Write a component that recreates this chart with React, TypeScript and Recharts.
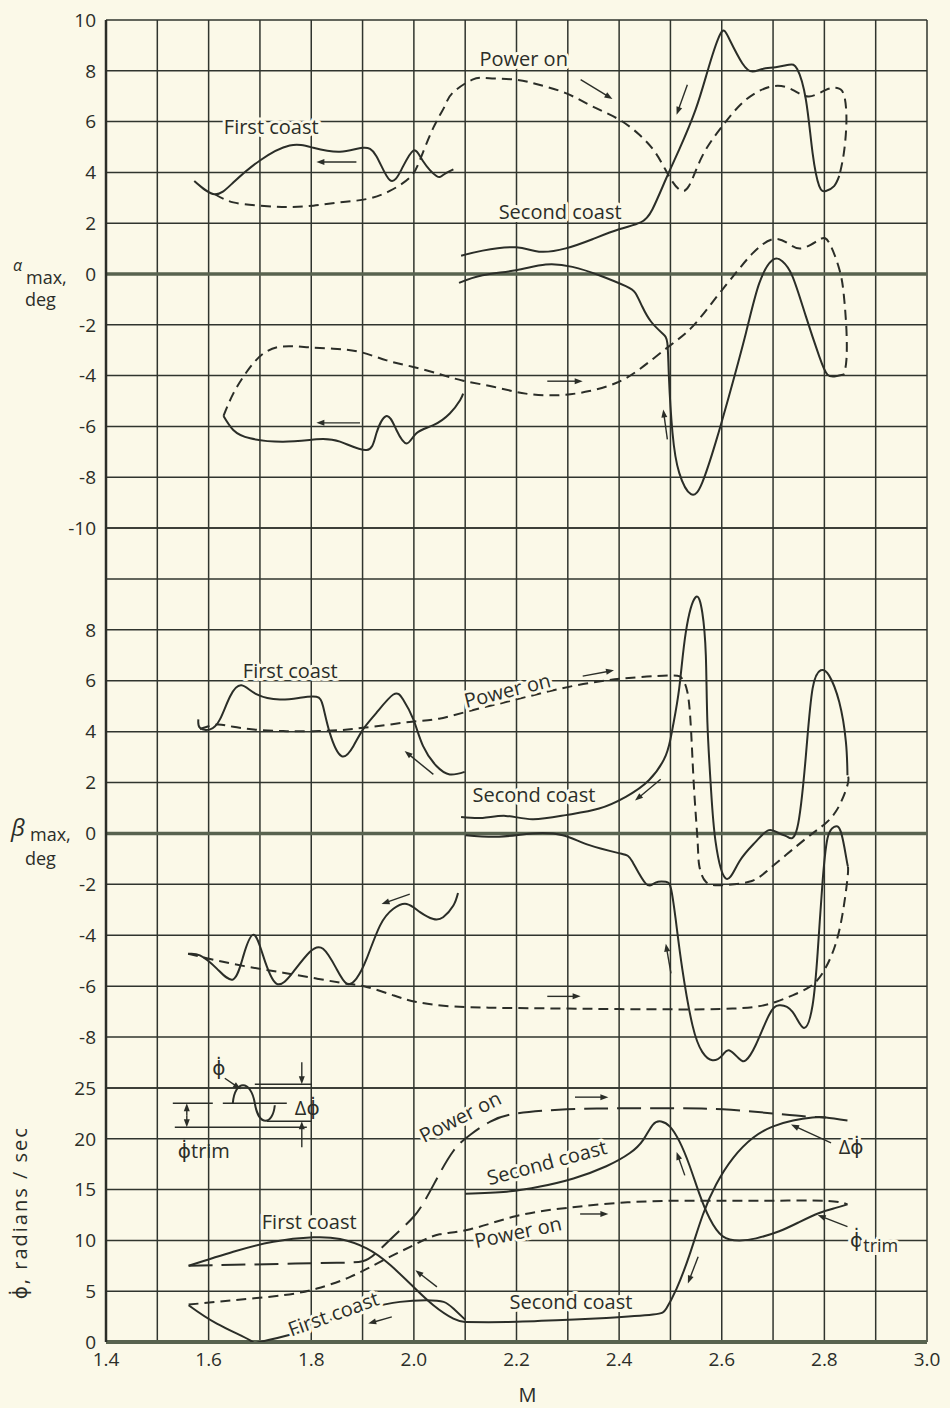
import React from "react";
import {
  LineChart,
  Line,
  XAxis,
  YAxis,
  CartesianGrid,
  ReferenceLine,
  ReferenceDot,
} from "recharts";

const PAPER = "#fbf9e8";
const INK = "#2b2e28";
const GRID = "#30352e";
const ZERO = "#58634f";
const FONT = "'Open Sans', 'DejaVu Sans', sans-serif";

const PLOT_LEFT = 106;
const PLOT_RIGHT = 927;
const PX_PER_M = (PLOT_RIGHT - PLOT_LEFT) / 1.6;

// ticks
const M_TICKS = [1.4, 1.5, 1.6, 1.7, 1.8, 1.9, 2.0, 2.1, 2.2, 2.3, 2.4, 2.5, 2.6, 2.7, 2.8, 2.9, 3.0];
const M_LABELED = [1.4, 1.6, 1.8, 2.0, 2.2, 2.4, 2.6, 2.8, 3.0];
const ALPHA_TICKS = [-10, -8, -6, -4, -2, 0, 2, 4, 6, 8, 10];
const BETA_TICKS = [-10, -8, -6, -4, -2, 0, 2, 4, 6, 8, 10, 12];
const BETA_LABELED = [-8, -6, -4, -2, 0, 2, 4, 6, 8];
const RATE_TICKS = [0, 5, 10, 15, 20, 25];

type Pair = [number, number];

// ---- alpha_max, deg : [M, alpha]
const alphaFirstCoastUp: Pair[] = [
  [1.572, 3.66], [1.612, 3.14], [1.648, 3.6], [1.7, 4.47], [1.758, 5.06], [1.804, 4.97],
  [1.856, 4.81], [1.9, 4.97], [1.927, 4.64], [1.953, 3.7], [1.976, 4.12], [1.999, 4.86],
  [2.018, 4.44], [2.044, 3.86], [2.057, 3.9], [2.077, 4.12],
];
const alphaPowerOnUp: Pair[] = [
  [1.612, 3.14], [1.648, 2.82], [1.7, 2.69], [1.752, 2.64], [1.804, 2.69], [1.856, 2.82],
  [1.908, 2.95], [1.953, 3.27], [1.992, 3.8], [2.012, 4.5], [2.038, 5.76], [2.06, 6.6],
  [2.075, 7.12], [2.114, 7.65], [2.147, 7.71], [2.199, 7.65], [2.244, 7.45], [2.296, 7.12],
  [2.348, 6.6], [2.4, 6.08], [2.439, 5.49], [2.471, 4.77], [2.497, 3.86], [2.517, 3.33],
  [2.536, 3.46], [2.562, 4.64], [2.601, 5.82], [2.647, 6.86], [2.699, 7.39], [2.738, 7.25],
  [2.77, 6.99], [2.803, 7.25], [2.825, 7.32], [2.838, 7.06], [2.843, 6.08], [2.838, 4.77],
  [2.829, 3.86],
];
const alphaSecondCoastUp: Pair[] = [
  [2.092, 0.72], [2.134, 0.92], [2.199, 1.05], [2.244, 0.88], [2.296, 1.01], [2.348, 1.37],
  [2.4, 1.76], [2.442, 2.03], [2.465, 2.55], [2.491, 3.73], [2.517, 4.9], [2.549, 6.47],
  [2.575, 8.17], [2.598, 9.48], [2.614, 9.28], [2.64, 8.3], [2.66, 7.97], [2.679, 8.07],
  [2.705, 8.14], [2.731, 8.24], [2.747, 8.07], [2.764, 6.86], [2.777, 4.77], [2.79, 3.46],
  [2.803, 3.27], [2.819, 3.46], [2.829, 3.86],
];
const alphaSecondCoastDown: Pair[] = [
  [2.088, -0.35], [2.134, -0.05], [2.199, 0.15], [2.257, 0.37], [2.309, 0.28], [2.361, -0.05],
  [2.413, -0.48], [2.432, -0.76], [2.445, -1.28], [2.462, -1.87], [2.484, -2.33], [2.494, -2.72],
  [2.497, -4.03], [2.504, -6.25], [2.517, -7.82], [2.54, -8.67], [2.562, -8.21], [2.588, -6.64],
  [2.614, -4.81], [2.647, -2.33], [2.673, -0.37], [2.699, 0.55], [2.718, 0.5], [2.738, -0.1],
  [2.764, -1.67], [2.79, -3.24], [2.806, -3.96], [2.822, -4.03], [2.838, -3.96],
];
const alphaPowerOnDown: Pair[] = [
  [1.629, -5.59], [1.648, -4.71], [1.674, -3.86], [1.706, -3.14], [1.745, -2.85], [1.791, -2.88],
  [1.843, -2.94], [1.895, -3.07], [1.947, -3.4], [1.999, -3.66], [2.051, -3.95], [2.096, -4.2],
  [2.155, -4.44], [2.218, -4.71], [2.283, -4.77], [2.342, -4.61], [2.394, -4.29], [2.439, -3.76],
  [2.497, -2.85], [2.543, -2.07], [2.588, -0.95], [2.627, 0.03], [2.66, 0.81], [2.699, 1.37],
  [2.731, 1.18], [2.757, 1.01], [2.79, 1.35], [2.809, 1.24], [2.829, 0.2], [2.838, -0.85],
  [2.843, -2.2], [2.843, -3.37], [2.838, -3.96],
];
const alphaFirstCoastDown: Pair[] = [
  [1.629, -5.59], [1.648, -6.14], [1.681, -6.47], [1.745, -6.6], [1.81, -6.51], [1.856, -6.6],
  [1.908, -6.93], [1.927, -6.27], [1.947, -5.59], [1.966, -6.14], [1.986, -6.67], [2.005, -6.27],
  [2.038, -5.95], [2.07, -5.49], [2.09, -4.97], [2.096, -4.71],
];

// ---- beta_max, deg : [M, beta]
const betaFirstCoastUp: Pair[] = [
  [1.58, 4.48], [1.583, 4.15], [1.603, 4.09], [1.622, 4.48], [1.642, 5.39], [1.664, 5.82],
  [1.694, 5.46], [1.739, 5.26], [1.778, 5.33], [1.81, 5.37], [1.823, 5.0], [1.836, 3.96],
  [1.859, 3.04], [1.882, 3.43], [1.901, 4.09], [1.927, 4.74], [1.96, 5.46], [1.979, 5.26],
  [1.999, 4.48], [2.018, 3.43], [2.044, 2.65], [2.07, 2.32], [2.099, 2.42],
];
const betaPowerOnUp: Pair[] = [
  [1.583, 4.1], [1.616, 4.28], [1.648, 4.19], [1.7, 4.06], [1.752, 4.02], [1.804, 4.02],
  [1.856, 4.06], [1.901, 4.15], [1.953, 4.28], [2.005, 4.41], [2.049, 4.51], [2.114, 4.84],
  [2.179, 5.16], [2.244, 5.49], [2.309, 5.79], [2.374, 6.01], [2.439, 6.14], [2.504, 6.21],
  [2.523, 6.08], [2.533, 5.56], [2.54, 4.12], [2.546, 1.76], [2.553, -0.33], [2.556, -1.25],
  [2.569, -1.9], [2.601, -2.03], [2.653, -1.9], [2.686, -1.51], [2.725, -0.85], [2.764, -0.2],
  [2.79, 0.2], [2.822, 0.85], [2.845, 1.9], [2.845, 2.29],
];
const betaSecondCoastUp: Pair[] = [
  [2.092, 0.65], [2.134, 0.61], [2.179, 0.69], [2.231, 0.56], [2.296, 0.72], [2.361, 0.98],
  [2.413, 1.44], [2.458, 2.09], [2.491, 3.07], [2.504, 4.12], [2.517, 5.69], [2.53, 7.91],
  [2.549, 9.28], [2.562, 8.69], [2.569, 6.99], [2.572, 4.38], [2.579, 1.76], [2.588, -0.33],
  [2.608, -1.77], [2.634, -1.11], [2.666, -0.33], [2.692, 0.13], [2.712, 0.0], [2.727, -0.12],
  [2.747, 0.2], [2.764, 3.07], [2.777, 5.69], [2.793, 6.41], [2.809, 6.21], [2.829, 5.16],
  [2.842, 3.59], [2.845, 2.29],
];
const betaSecondCoastDown: Pair[] = [
  [2.101, -0.07], [2.166, -0.13], [2.231, 0.0], [2.29, -0.07], [2.342, -0.46], [2.403, -0.79],
  [2.426, -1.11], [2.452, -1.97], [2.471, -1.93], [2.491, -1.9], [2.501, -2.16], [2.51, -3.34],
  [2.523, -5.31], [2.543, -7.54], [2.562, -8.58], [2.582, -8.91], [2.601, -8.72], [2.614, -8.52],
  [2.634, -8.85], [2.647, -8.91], [2.666, -8.32], [2.692, -7.14], [2.712, -6.75], [2.738, -7.01],
  [2.76, -7.64], [2.777, -6.75], [2.787, -4.65], [2.796, -2.03], [2.806, -0.2], [2.819, 0.26],
  [2.832, 0.07], [2.843, -1.0], [2.846, -1.3],
];
const betaPowerOnDown: Pair[] = [
  [1.56, -4.73], [1.616, -4.99], [1.68, -5.25], [1.745, -5.47], [1.81, -5.7], [1.869, -5.9],
  [1.908, -6.03], [1.96, -6.36], [2.005, -6.62], [2.07, -6.79], [2.135, -6.84], [2.2, -6.86],
  [2.3, -6.88], [2.4, -6.9], [2.5, -6.91], [2.569, -6.91], [2.621, -6.88], [2.666, -6.81],
  [2.705, -6.62], [2.738, -6.36], [2.771, -6.03], [2.796, -5.5], [2.819, -4.52], [2.835, -3.21],
  [2.845, -1.77], [2.846, -1.3],
];
const betaFirstCoastDown: Pair[] = [
  [1.56, -4.73], [1.583, -4.79], [1.616, -5.31], [1.648, -5.73], [1.668, -4.79], [1.687, -3.98],
  [1.706, -4.79], [1.732, -5.9], [1.765, -5.44], [1.797, -4.66], [1.823, -4.53], [1.849, -5.31],
  [1.869, -5.9], [1.888, -5.7], [1.908, -4.92], [1.934, -3.62], [1.96, -2.96], [1.986, -2.77],
  [2.012, -3.09], [2.038, -3.36], [2.057, -3.29], [2.077, -2.83], [2.086, -2.34],
];

// ---- phi dot, radians/sec : [M, rate]
const rateFirstCoastDelta: Pair[] = [
  [1.561, 7.5], [1.648, 8.88], [1.726, 9.87], [1.804, 10.3], [1.856, 10.13], [1.908, 9.21],
  [1.954, 7.57], [1.999, 5.43], [2.038, 3.62], [2.077, 2.3], [2.1, 1.97],
];
const ratePowerOnDelta: Pair[] = [
  [1.561, 7.5], [1.65, 7.6], [1.75, 7.7], [1.85, 7.8], [1.9, 7.95], [1.925, 8.7],
  [1.95, 9.9], [1.975, 11.1], [1.999, 12.3], [2.02, 13.8], [2.045, 16.1], [2.077, 18.8],
  [2.11, 20.4], [2.149, 21.7], [2.201, 22.5], [2.298, 22.9], [2.401, 23.0], [2.505, 23.0],
  [2.602, 22.9], [2.699, 22.5], [2.764, 22.2], [2.803, 22.1],
];
const ratePowerOnTrim: Pair[] = [
  [1.561, 3.68], [1.648, 4.11], [1.746, 4.61], [1.811, 5.26], [1.876, 6.41], [1.941, 8.06],
  [2.006, 9.7], [2.05, 10.6], [2.11, 11.1], [2.2, 12.4], [2.298, 13.2], [2.401, 13.7],
  [2.505, 13.9], [2.602, 13.9], [2.699, 13.9], [2.803, 13.9], [2.845, 13.55],
];
const rateFirstCoastTrim: Pair[] = [
  [1.561, 3.62], [1.616, 1.81], [1.681, 0.16], [1.7, 0.0], [1.778, 0.99], [1.843, 2.3],
  [1.908, 3.29], [1.973, 3.95], [2.025, 4.11], [2.058, 3.95], [2.077, 3.29], [2.1, 2.2],
];
const rateSecondCoastDelta: Pair[] = [
  [2.1, 1.97], [2.181, 1.97], [2.278, 2.14], [2.375, 2.37], [2.466, 2.7], [2.492, 3.29],
  [2.512, 5.26], [2.537, 8.55], [2.563, 12.5], [2.589, 15.5], [2.622, 18.1], [2.661, 20.1],
  [2.699, 21.2], [2.739, 21.8], [2.777, 22.1], [2.803, 22.1], [2.845, 21.8],
];
const rateSecondCoastTrim: Pair[] = [
  [2.1, 14.6], [2.181, 14.8], [2.246, 15.3], [2.311, 16.1], [2.375, 17.3], [2.421, 18.6],
  [2.447, 19.9], [2.466, 21.4], [2.482, 21.7], [2.499, 21.2], [2.518, 19.7], [2.537, 17.4],
  [2.557, 14.5], [2.576, 12.2], [2.602, 10.4], [2.635, 10.0], [2.667, 10.2], [2.712, 10.9],
  [2.751, 11.8], [2.79, 12.7], [2.822, 13.2], [2.845, 13.55],
];

type Curve = { pts: Pair[]; dash?: string };
type Note = { text: string; at: Pair; angle?: number };
type Arrow = { from: Pair; to: Pair };

const DASH = "10 6";
const LONG_DASH = "24 9";

const alphaCurves: Curve[] = [
  { pts: alphaFirstCoastUp },
  { pts: alphaPowerOnUp, dash: DASH },
  { pts: alphaSecondCoastUp },
  { pts: alphaSecondCoastDown },
  { pts: alphaPowerOnDown, dash: DASH },
  { pts: alphaFirstCoastDown },
];
const betaCurves: Curve[] = [
  { pts: betaFirstCoastUp },
  { pts: betaPowerOnUp, dash: DASH },
  { pts: betaSecondCoastUp },
  { pts: betaSecondCoastDown },
  { pts: betaPowerOnDown, dash: DASH },
  { pts: betaFirstCoastDown },
];
const rateCurves: Curve[] = [
  { pts: rateFirstCoastDelta },
  { pts: ratePowerOnDelta, dash: LONG_DASH },
  { pts: ratePowerOnTrim, dash: DASH },
  { pts: rateFirstCoastTrim },
  { pts: rateSecondCoastDelta },
  { pts: rateSecondCoastTrim },
];

const alphaNotes: Note[] = [
  { text: "First coast", at: [1.722, 5.79] },
  { text: "Power on", at: [2.214, 8.48] },
  { text: "Second coast", at: [2.285, 2.47] },
];
const betaNotes: Note[] = [
  { text: "First coast", at: [1.759, 6.39] },
  { text: "Power on", at: [2.182, 5.63], angle: -14 },
  { text: "Second coast", at: [2.234, 1.52] },
];
const rateNotes: Note[] = [
  { text: "Power on", at: [2.09, 22.2], angle: -27 },
  { text: "Second coast", at: [2.259, 17.7], angle: -15 },
  { text: "Power on", at: [2.203, 10.85], angle: -12 },
  { text: "Second coast", at: [2.306, 3.99] },
  { text: "First coast", at: [1.796, 11.86] },
  { text: "First coast", at: [1.843, 2.8], angle: -20 },
  { text: "\u0394\u03d5\u0307", at: [2.852, 19.2] },
];

const alphaArrows: Arrow[] = [
  { from: [1.888, 4.41], to: [1.81, 4.41] },
  { from: [1.895, -5.86], to: [1.81, -5.86] },
  { from: [2.325, 7.65], to: [2.387, 6.89] },
  { from: [2.533, 7.45], to: [2.512, 6.27] },
  { from: [2.26, -4.22], to: [2.329, -4.22] },
  { from: [2.494, -6.51], to: [2.486, -5.33] },
];
const betaArrows: Arrow[] = [
  { from: [2.038, 2.32], to: [1.982, 3.24] },
  { from: [1.992, -2.38], to: [1.937, -2.77] },
  { from: [2.329, 6.18], to: [2.39, 6.41] },
  { from: [2.481, 2.13], to: [2.431, 1.29] },
  { from: [2.26, -6.4], to: [2.325, -6.4] },
  { from: [2.501, -5.5], to: [2.491, -4.33] },
];
const rateArrows: Arrow[] = [
  { from: [2.314, 24.1], to: [2.379, 24.1] },
  { from: [2.324, 12.6], to: [2.379, 12.6] },
  { from: [2.528, 16.4], to: [2.512, 18.7] },
  { from: [2.554, 8.4], to: [2.534, 5.76] },
  { from: [2.045, 5.43], to: [2.003, 7.07] },
  { from: [1.957, 2.47], to: [1.911, 1.81] },
  { from: [2.813, 19.6], to: [2.735, 21.4] },
  { from: [2.845, 11.35], to: [2.787, 12.5] },
];

const textStyle = {
  fontFamily: FONT,
  fontSize: 20,
  fill: INK,
};

function head(tx: number, ty: number, ux: number, uy: number) {
  const h = 8;
  const w = 3;
  const bx = tx - ux * h;
  const by = ty - uy * h;
  return (
    <polygon
      points={`${tx},${ty} ${bx - uy * w},${by + ux * w} ${bx + uy * w},${by - ux * w}`}
      fill={INK}
    />
  );
}

function ArrowGlyph({ x, y, dx, dy }: { x: number; y: number; dx: number; dy: number }) {
  const len = Math.hypot(dx, dy) || 1;
  const ux = dx / len;
  const uy = dy / len;
  return (
    <g>
      <line x1={x} y1={y} x2={x + dx - ux * 5} y2={y + dy - uy * 5} stroke={INK} strokeWidth={1.4} />
      {head(x + dx, y + dy, ux, uy)}
    </g>
  );
}

const noteDot = (n: Note, key: string) => (
  <ReferenceDot
    key={key}
    x={n.at[0]}
    y={n.at[1]}
    r={0}
    ifOverflow="visible"
    shape={(p: any) => (
      <text
        x={p.cx}
        y={p.cy}
        textAnchor="middle"
        dominantBaseline="central"
        transform={n.angle ? `rotate(${n.angle} ${p.cx} ${p.cy})` : undefined}
        {...textStyle}
        stroke={PAPER}
        strokeWidth={6}
        strokeLinejoin="round"
        paintOrder="stroke"
      >
        {n.text}
      </text>
    )}
  />
);

const arrowDot = (a: Arrow, pxPerY: number, key: string) => {
  const dx = (a.to[0] - a.from[0]) * PX_PER_M;
  const dy = -(a.to[1] - a.from[1]) * pxPerY;
  return (
    <ReferenceDot
      key={key}
      x={a.from[0]}
      y={a.from[1]}
      r={0}
      ifOverflow="visible"
      shape={(p: any) => <ArrowGlyph x={p.cx} y={p.cy} dx={dx} dy={dy} />}
    />
  );
};

// sketch of the phi-dot oscillation about its trim value
function InsetGlyph({ cx, cy }: { cx: number; cy: number }) {
  const ln = (x1: number, y1: number, x2: number, y2: number) => (
    <line x1={x1} y1={y1} x2={x2} y2={y2} stroke={INK} strokeWidth={1.3} />
  );
  return (
    <g transform={`translate(${cx} ${cy})`}>
      {ln(-82, 0, -42, 0)}
      {ln(-32, 0, 32, 0)}
      {ln(0, -19, 57, -19)}
      {ln(12, 18, 57, 18)}
      {ln(-80, 24, 52, 24)}
      <path d="M -22 0 C -20 -24, -4 -24, 0 0 C 4 24, 18 22, 20 2" fill="none" stroke={INK} strokeWidth={2} />
      <ArrowGlyph x={-68} y={12} dx={0} dy={-12} />
      <ArrowGlyph x={-68} y={12} dx={0} dy={12} />
      <ArrowGlyph x={47} y={-41} dx={0} dy={22} />
      <ArrowGlyph x={47} y={44} dx={0} dy={-26} />
      <ArrowGlyph x={-30} y={-25} dx={16} dy={11} />
      <text x={-36} y={-28} textAnchor="middle" {...textStyle}>{"\u03d5\u0307"}</text>
      <text x={40} y={12} {...textStyle}>{"\u0394\u03d5\u0307"}</text>
      <text x={-77} y={55} {...textStyle}>{"\u03d5\u0307trim"}</text>
    </g>
  );
}

type PanelProps = {
  top: number;
  height: number;
  marginTop: number;
  marginBottom: number;
  domain: [number, number];
  ticks: number[];
  labeled: number[];
  pxPerY: number;
  curves: Curve[];
  notes: Note[];
  arrows: Arrow[];
  zeroWidth: number;
  showX?: boolean;
  extra: React.ReactNode[];
};

function Panel(props: PanelProps) {
  const { top, height, marginTop, marginBottom, domain, ticks, labeled, pxPerY, curves, notes, arrows, zeroWidth, showX, extra } = props;
  return (
    <div style={{ position: "absolute", left: 0, top, width: 950, height }}>
      <LineChart
        width={950}
        height={height}
        margin={{ top: marginTop, right: 950 - PLOT_RIGHT, bottom: marginBottom, left: 0 }}
      >
        <CartesianGrid stroke={GRID} strokeWidth={1.5} />
        <XAxis
          type="number"
          dataKey="x"
          domain={[1.4, 3.0]}
          ticks={M_TICKS}
          interval={0}
          allowDataOverflow
          hide={!showX}
          height={66}
          axisLine={false}
          tickLine={false}
          tickSize={0}
          tickMargin={11}
          tick={{ ...textStyle, fontSize: 19 }}
          tickFormatter={(v: number) => (M_LABELED.includes(v) ? v.toFixed(1) : "")}
          label={{ value: "M", position: "insideBottom", offset: 6, dx: 11, ...textStyle }}
        />
        <YAxis
          type="number"
          domain={domain}
          ticks={ticks}
          interval={0}
          allowDataOverflow
          width={PLOT_LEFT}
          axisLine={false}
          tickLine={false}
          tickSize={0}
          tickMargin={10}
          tick={{ ...textStyle, fontSize: 19 }}
          tickFormatter={(v: number) => (labeled.includes(v) ? String(v) : "")}
        />
        <ReferenceLine y={0} stroke={ZERO} strokeWidth={zeroWidth} ifOverflow="visible" />
        <ReferenceLine x={1.4} stroke={INK} strokeWidth={2.5} ifOverflow="visible" />
        {curves.map((c, i) => (
          <Line
            key={`c${i}`}
            data={c.pts.map(([x, y]) => ({ x, y }))}
            dataKey="y"
            type="natural"
            stroke={INK}
            strokeWidth={2}
            strokeDasharray={c.dash}
            dot={false}
            activeDot={false}
            isAnimationActive={false}
          />
        ))}
        {notes.map((n, i) => noteDot(n, `n${i}`))}
        {arrows.map((a, i) => arrowDot(a, pxPerY, `a${i}`))}
        {extra}
      </LineChart>
    </div>
  );
}

export default function App() {
  const alphaTitle = (
    <ReferenceDot
      key="t"
      x={1.4}
      y={0}
      r={0}
      ifOverflow="visible"
      shape={(p: any) => (
        <g>
          <text x={p.cx - 93} y={p.cy - 3} {...textStyle} fontSize={16} fontStyle="italic">{"\u03b1"}</text>
          <text x={p.cx - 80} y={p.cy + 10} {...textStyle} fontSize={18}>max,</text>
          <text x={p.cx - 81} y={p.cy + 32} {...textStyle} fontSize={18}>deg</text>
        </g>
      )}
    />
  );
  const betaTitle = (
    <ReferenceDot
      key="t"
      x={1.4}
      y={0}
      r={0}
      ifOverflow="visible"
      shape={(p: any) => (
        <g>
          <text x={p.cx - 95} y={p.cy + 3} {...textStyle} fontSize={24} fontStyle="italic">{"\u03b2"}</text>
          <text x={p.cx - 76} y={p.cy + 8} {...textStyle} fontSize={18}>max,</text>
          <text x={p.cx - 81} y={p.cy + 32} {...textStyle} fontSize={18}>deg</text>
        </g>
      )}
    />
  );
  const rateExtras = [
    <ReferenceDot
      key="t"
      x={1.4}
      y={4.2}
      r={0}
      ifOverflow="visible"
      shape={(p: any) => (
        <text
          x={p.cx - 86}
          y={p.cy}
          textAnchor="start"
          dominantBaseline="central"
          letterSpacing={2}
          transform={`rotate(-90 ${p.cx - 86} ${p.cy})`}
          {...textStyle}
        >
          {"\u03d5\u0307,  radians / sec"}
        </text>
      )}
    />,
    <ReferenceDot
      key="inset"
      x={1.69}
      y={23.5}
      r={0}
      ifOverflow="visible"
      shape={(p: any) => <InsetGlyph cx={p.cx} cy={p.cy} />}
    />,
    <ReferenceDot
      key="trim"
      x={2.85}
      y={9.35}
      r={0}
      ifOverflow="visible"
      shape={(p: any) => (
        <text x={p.cx} y={p.cy} {...textStyle} stroke={PAPER} strokeWidth={6} paintOrder="stroke">
          {"\u03d5\u0307"}
          <tspan fontSize={18} dy={5}>trim</tspan>
        </text>
      )}
    />,
  ];

  return (
    <div
      style={{
        position: "absolute",
        left: 0,
        top: 0,
        width: 950,
        height: 1408,
        background: PAPER,
        overflow: "hidden",
      }}
    >
      <Panel
        top={0}
        height={548}
        marginTop={20}
        marginBottom={20}
        domain={[-10, 10]}
        ticks={ALPHA_TICKS}
        labeled={ALPHA_TICKS}
        pxPerY={508 / 20}
        curves={alphaCurves}
        notes={alphaNotes}
        arrows={alphaArrows}
        zeroWidth={3.5}
        extra={[alphaTitle]}
      />
      <Panel
        top={518}
        height={580}
        marginTop={10}
        marginBottom={10}
        domain={[-10, 12]}
        ticks={BETA_TICKS}
        labeled={BETA_LABELED}
        pxPerY={560 / 22}
        curves={betaCurves}
        notes={betaNotes}
        arrows={betaArrows}
        zeroWidth={3.5}
        extra={[betaTitle]}
      />
      <Panel
        top={1038}
        height={370}
        marginTop={50}
        marginBottom={0}
        domain={[0, 25]}
        ticks={RATE_TICKS}
        labeled={RATE_TICKS}
        pxPerY={254 / 25}
        curves={rateCurves}
        notes={rateNotes}
        arrows={rateArrows}
        zeroWidth={4}
        showX
        extra={rateExtras}
      />
    </div>
  );
}
